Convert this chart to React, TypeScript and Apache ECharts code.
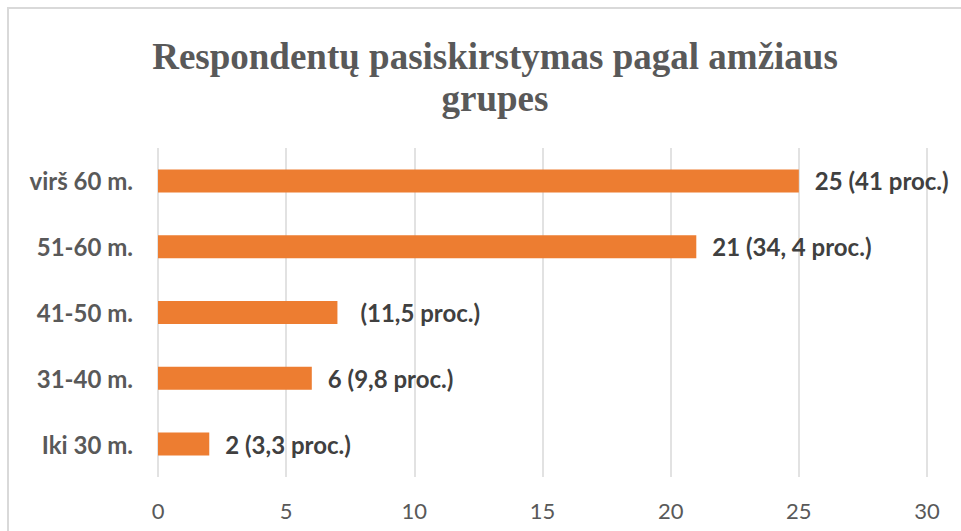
import React, { useEffect, useRef } from "react";
import * as echarts from "echarts";

const title = "Respondentų pasiskirstymas pagal amžiaus\ngrupes";
const categories = ["Iki 30 m.", "31-40 m.", "41-50 m.", "51-60 m.", "virš 60 m."];
const values = [2, 6, 7, 21, 25];
const valueLabels = ["2 (3,3 proc.)", "6 (9,8 proc.)", "(11,5 proc.)", "21 (34, 4 proc.)", "25 (41 proc.)"];
const xTicks = [0, 5, 10, 15, 20, 25, 30];

export default function App() {
  const ref = useRef<HTMLDivElement>(null);
  useEffect(() => {
    if (!ref.current) return;
    const chart = echarts.init(ref.current, undefined, { renderer: "svg" });
    chart.setOption({
      animation: false,
      backgroundColor: "#ffffff",
      title: {
        text: title,
        left: 490,
        textAlign: "center",
        top: 30,
        textStyle: {
          fontFamily: "Liberation Serif",
          fontWeight: "bold",
          fontSize: 37,
          color: "#595959",
          lineHeight: 42,
        },
      },
      graphic: [
        {
          type: "rect",
          shape: { x: 8, y: 8, width: 1200, height: 900 },
          style: { fill: "none", stroke: "#d9d9d9", lineWidth: 2 },
          silent: true,
        },
      ],
      grid: { left: 158, right: 34, top: 148, bottom: 54 },
      xAxis: {
        type: "value",
        min: xTicks[0],
        max: xTicks[xTicks.length - 1],
        interval: 5,
        axisLine: { show: false },
        axisTick: { show: false },
        splitLine: { show: true, lineStyle: { color: "#d9d9d9", width: 1.5 } },
        axisLabel: {
          fontFamily: "Lato",
          fontSize: 22,
          color: "#595959",
          margin: 22,
        },
      },
      yAxis: {
        type: "category",
        data: categories,
        axisLine: { show: false },
        axisTick: { show: false },
        axisLabel: {
          fontFamily: "Lato",
          fontWeight: "bold",
          fontSize: 24,
          color: "#595959",
          margin: 25,
        },
      },
      series: [
        {
          type: "bar",
          barCategoryGap: "65%",
          data: values.map((v, i) => ({
            value: v,
            label: { offset: [i === 2 ? 7 : 0, 0] },
          })),
          itemStyle: { color: "#ED7D31" },
          label: {
            show: true,
            position: "right",
            distance: 16,
            formatter: (p: any) => valueLabels[p.dataIndex],
            fontFamily: "Lato",
            fontWeight: "bold",
            fontSize: 24,
            color: "#404040",
          },
        },
      ],
    });
    return () => chart.dispose();
  }, []);
  return (
    <div
      ref={ref}
      style={{ position: "fixed", left: 0, top: 0, width: 961, height: 531 }}
    />
  );
}
